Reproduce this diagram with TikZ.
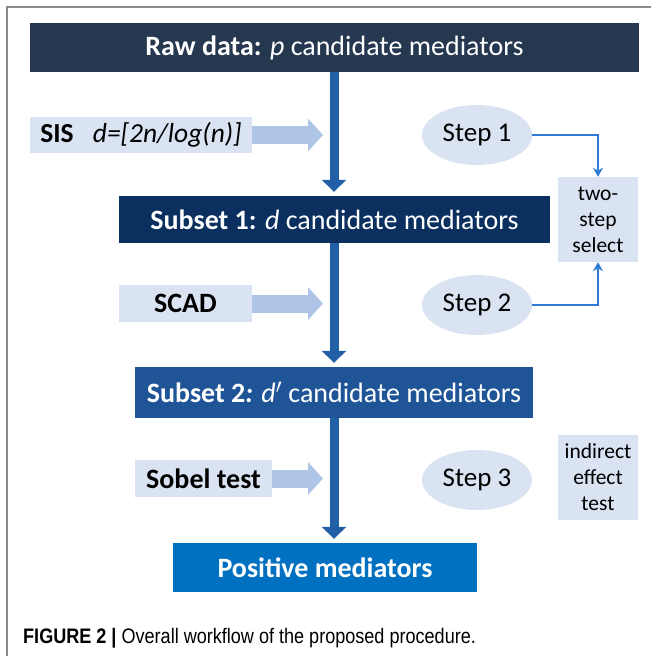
\documentclass[tikz,border=0pt]{standalone}
\usepackage{fontspec}
\setmainfont{Carlito}
\newfontfamily\capfont{Liberation Sans}
\usetikzlibrary{arrows.meta,shapes.geometric}
\definecolor{rawc}{HTML}{263750}
\definecolor{subA}{HTML}{0B2F5E}
\definecolor{subB}{HTML}{1F5597}
\definecolor{posc}{HTML}{0070C0}
\definecolor{mainarr}{HTML}{2160A6}
\definecolor{lightbox}{HTML}{D9E3F2}
\definecolor{lightarr}{HTML}{AFC5E8}
\definecolor{linkc}{HTML}{2F7BD5}
\definecolor{framec}{HTML}{8A8A8A}
\begin{document}
\begin{tikzpicture}[x=1pt,y=-1pt,
  darkbox/.style={rectangle, text=white, inner sep=0pt, font=\fontsize{28}{32}\selectfont},
  lbox/.style={rectangle, fill=lightbox, inner sep=0pt, font=\fontsize{28}{32}\selectfont},
  sidebox/.style={rectangle, fill=lightbox, inner sep=0pt, align=center, minimum width=80pt, minimum height=85pt, font=\fontsize{21.5}{26}\selectfont},
  stepell/.style={ellipse, fill=lightbox, minimum width=110pt, minimum height=60pt, inner sep=0pt, font=\fontsize{27}{30}\selectfont},
  mainarrow/.style={draw=mainarr, line width=9pt, -{Triangle[width=24pt,length=12pt]}, shorten >=4pt},
  blockarrow/.style={draw=lightarr, line width=18pt, -{Triangle[width=32pt,length=15pt]}},
  link/.style={draw=linkc, line width=2.3pt, -{Stealth[width=10pt,length=9pt]}}
]
\useasboundingbox (0,0) rectangle (651,656);
% frame lines
\coordinate (fA) at (7,656);
\coordinate (fB) at (7,7);
\coordinate (fC) at (651,7);
\draw[framec, line width=1.5pt] (fA) -- (fB) -- (fC);

% main boxes
\node[darkbox, fill=rawc, minimum width=609pt, minimum height=49pt] (raw) at (334.5,47.5) {\textbf{Raw data:} \textit{p} candidate mediators};
\node[darkbox, fill=subA, minimum width=431pt, minimum height=47pt] (sub1) at (334.5,219.5) {\textbf{Subset 1:} \textit{d} candidate mediators};
\node[darkbox, fill=subB, minimum width=398pt, minimum height=51pt] (sub2) at (334,392.5) {\textbf{Subset 2\textit{:}} \textit{d}$'$ candidate mediators};
\node[darkbox, fill=posc, minimum width=304pt, minimum height=49pt] (pos) at (325,567.5) {\textbf{Positive mediators}};

% main arrows
\draw[mainarrow] (raw.south -| 334,0) -- (sub1.north -| 334,0);
\draw[mainarrow] (sub1.south -| 334,0) -- (sub2.north -| 334,0);
\draw[mainarrow] (sub2.south -| 334,0) -- (pos.north -| 334,0);

% left method boxes
\node[lbox, minimum width=222pt, minimum height=36pt, font=\fontsize{27.5}{30}\selectfont] (sis) at (141,135) {\textbf{SIS}\hspace{0.7em}\textit{d=[2n/log(n)]}\hspace{6pt}};
\node[lbox, minimum width=133pt, minimum height=37pt] (scad) at (185.5,303.5) {\textbf{SCAD}};
\node[lbox, minimum width=137pt, minimum height=37pt] (sobel) at (203.5,478.5) {\textbf{Sobel test}};

\coordinate (t1) at (323,135);
\coordinate (t2) at (323,303.5);
\coordinate (t3) at (323,478.5);
\draw[blockarrow] (sis.east) -- (t1);
\draw[blockarrow] (scad.east) -- (t2);
\draw[blockarrow] (sobel.east) -- (t3);

% step ellipses
\node[stepell] (s1) at (477,135) {Step 1};
\node[stepell] (s2) at (477,305) {Step 2};
\node[stepell] (s3) at (477,480) {Step 3};

% side boxes
\node[sidebox] (two) at (598,219.5) {two-\\step\\select};
\node[sidebox] (ind) at (598,477.5) {indirect\\effect\\test};

\draw[link] (s1.east) -| (two.north);
\draw[link] (s2.east) -| (two.south);

% caption
\node[anchor=base west, inner sep=0pt, font=\capfont\fontsize{21}{24}\selectfont] (cap) at (23,643) {\scalebox{0.86}[1]{\textbf{FIGURE 2 |} Overall workflow of the proposed procedure.}};
\end{tikzpicture}
\end{document}
